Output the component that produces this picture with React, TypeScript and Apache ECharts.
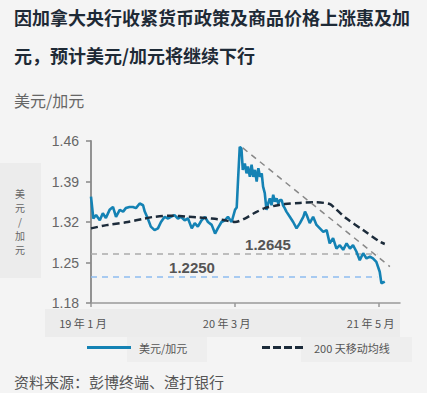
import React, { useEffect, useRef } from "react";
import * as echarts from "echarts";

const titleLines = ["因加拿大央行收紧货币政策及商品价格上涨惠及加", "元，预计美元/加元将继续下行"];
const unitText = "美元/加元";
const sourceText = "资料来源：彭博终端、渣打银行";

const usdcadName = "美元/加元";
const maName = "200 天移动均线";

const usdcadDates = [
  "2019-01-01","2019-01-08","2019-01-16","2019-01-27","2019-02-05","2019-02-14","2019-02-25","2019-03-07","2019-03-16","2019-03-27",
  "2019-04-06","2019-04-14","2019-04-25","2019-05-05","2019-05-14","2019-05-25","2019-06-04","2019-06-09","2019-06-18","2019-06-27",
  "2019-07-08","2019-07-18","2019-07-27","2019-08-07","2019-08-17","2019-08-25","2019-09-05","2019-09-15","2019-09-24","2019-10-05",
  "2019-10-15","2019-10-26","2019-11-04","2019-11-13","2019-11-24","2019-12-04","2019-12-13","2019-12-24","2020-01-03","2020-01-11",
  "2020-01-22","2020-02-01","2020-02-10","2020-02-21","2020-03-02","2020-03-07","2020-03-11","2020-03-16","2020-03-21","2020-03-25",
  "2020-03-31","2020-04-05","2020-04-09","2020-04-15","2020-04-20","2020-04-25","2020-04-30","2020-05-05","2020-05-10","2020-05-15",
  "2020-05-20","2020-05-24","2020-05-29","2020-06-03","2020-06-08","2020-06-13","2020-06-18","2020-06-23","2020-06-28","2020-07-03",
  "2020-07-08","2020-07-13","2020-07-18","2020-07-22","2020-07-27","2020-08-01","2020-08-11","2020-08-21","2020-08-31","2020-09-10",
  "2020-09-20","2020-09-25","2020-09-30","2020-10-09","2020-10-19","2020-10-29","2020-11-08","2020-11-18","2020-11-28","2020-12-07",
  "2020-12-17","2020-12-27","2021-01-06","2021-01-16","2021-01-26","2021-02-05","2021-02-14","2021-02-24","2021-03-06","2021-03-16",
  "2021-03-26","2021-04-05","2021-04-14","2021-04-24","2021-05-04","2021-05-09","2021-05-19",
];
const usdcadValues = [
  1.364,1.326,1.332,1.323,1.335,1.327,1.341,1.346,1.329,1.341,
  1.338,1.344,1.346,1.346,1.344,1.352,1.349,1.338,1.326,1.312,
  1.306,1.309,1.320,1.329,1.326,1.329,1.332,1.326,1.329,1.323,
  1.326,1.309,1.318,1.312,1.323,1.329,1.320,1.315,1.300,1.309,
  1.320,1.323,1.329,1.320,1.341,1.345,1.393,1.450,1.447,1.410,
  1.421,1.404,1.416,1.398,1.419,1.398,1.410,1.390,1.413,1.398,
  1.404,1.381,1.370,1.341,1.352,1.361,1.349,1.367,1.355,1.361,
  1.352,1.358,1.358,1.349,1.344,1.338,1.329,1.320,1.309,1.318,
  1.329,1.338,1.332,1.318,1.329,1.315,1.309,1.303,1.306,1.283,
  1.292,1.274,1.280,1.272,1.283,1.274,1.280,1.269,1.254,1.266,
  1.257,1.260,1.257,1.251,1.234,1.214,1.217,
];

const maDates = [
  "2019-01-01","2019-02-20","2019-04-20","2019-06-08","2019-07-08","2019-08-25","2019-10-15","2019-11-13","2019-12-24","2020-01-22",
  "2020-03-02","2020-03-31","2020-04-30","2020-05-29","2020-06-28","2020-07-27","2020-09-10","2020-10-27","2020-12-07","2020-12-22",
  "2021-01-26","2021-03-16","2021-05-04","2021-05-19",
];
const maValues = [
  1.309,1.315,1.320,1.326,1.329,1.331,1.329,1.328,1.326,1.324,
  1.320,1.326,1.336,1.344,1.348,1.351,1.353,1.354,1.351,1.344,
  1.326,1.306,1.286,1.282,
];

const resistanceLevel = 1.2645;
const supportLevel = 1.225;
const levelStart = "2019-01-01";
const levelEnd = "2021-04-27";
const trendDates = ["2020-03-25", "2021-06-03"];
const trendValues = [1.448, 1.243];

const yTicks = [1.18, 1.25, 1.32, 1.39, 1.46];
const xTickDateStrings = ["2019-01-01", "2020-03-01", "2021-05-01"];
const xTickLabels = ["19 年 1 月", "20 年 3 月", "21 年 5 月"];
const xMinDate = "2019-01-01";
const xMaxDate = "2021-07-03";

const FONT = "'Liberation Sans', 'Noto Sans CJK SC', sans-serif";
const CJK = "'Noto Sans CJK SC', 'Liberation Sans', sans-serif";

const toTs = (s: string) => {
  const [y, m, d] = s.split("-").map(Number);
  return Date.UTC(y, m - 1, d);
};

export default function App() {
  const ref = useRef<HTMLDivElement>(null);
  useEffect(() => {
    if (!ref.current) return;
    const chart = echarts.init(ref.current, null, { renderer: "svg" });
    const pair = (d: string[], v: number[]) => d.map((x, i) => [toTs(x), v[i]]);
    const xTicks = xTickDateStrings.map(toTs);
    const unitChars = unitText.split("");
    const verticalUnit = unitChars.map((ch, i) => ({
      type: "text",
      x: 20,
      y: 221 + (i - (unitChars.length - 1) / 2) * 14,
      style: { text: ch, fill: "#666", font: `10px ${CJK}`, textAlign: "center", textVerticalAlign: "middle" },
    }));
    chart.setOption({
      animation: false,
      backgroundColor: "#f4f4f4",
      textStyle: { fontFamily: FONT },
      grid: { left: 91, right: 27, top: 141, bottom: 90, containLabel: false },
      xAxis: {
        type: "value",
        min: toTs(xMinDate),
        max: toTs(xMaxDate),
        axisLine: { show: true, lineStyle: { color: "#999", width: 1.5 } },
        axisTick: { show: true, length: 4, lineStyle: { color: "#999", width: 1.5 }, customValues: xTicks },
        axisLabel: {
          customValues: xTicks,
          color: "#555",
          fontSize: 11,
          fontFamily: CJK,
          margin: 14,
          padding: [0, 16, 0, 0],
          formatter: (val: number) => {
            let best = 0;
            xTicks.forEach((t, i) => {
              if (Math.abs(t - val) < Math.abs(xTicks[best] - val)) best = i;
            });
            return xTickLabels[best];
          },
        },
        splitLine: { show: false },
      },
      yAxis: {
        type: "value",
        min: 1.18,
        max: 1.46,
        axisLine: { show: true, lineStyle: { color: "#888", width: 1.8 } },
        axisTick: { show: true, length: 5, lineStyle: { color: "#888", width: 1.5 }, customValues: yTicks },
        axisLabel: {
          customValues: yTicks,
          color: "#666",
          fontSize: 14,
          margin: 12,
          formatter: (v: number) => v.toFixed(2),
        },
        splitLine: { show: false },
      },
      legend: [
        {
          left: 82,
          top: 337,
          itemWidth: 44,
          itemHeight: 12,
          textStyle: { color: "#555", fontSize: 11, fontFamily: CJK, padding: [0, 0, 0, 3] },
          data: [{ name: usdcadName, icon: "path://M0,5 L44,5 L44,8 L0,8 Z", itemStyle: { color: "#1482b4" } }],
        },
        {
          left: 257,
          top: 337,
          itemWidth: 41,
          itemHeight: 12,
          textStyle: { color: "#555", fontSize: 11, fontFamily: CJK, padding: [0, 0, 0, 6] },
          data: [{
            name: maName,
            icon: "path://M0,5 L8,5 L8,8 L0,8 Z M11,5 L19,5 L19,8 L11,8 Z M22,5 L30,5 L30,8 L22,8 Z M33,5 L41,5 L41,8 L33,8 Z",
            itemStyle: { color: "#1c2b3a" },
          }],
        },
      ],
      series: [
        {
          name: "resistance",
          type: "line",
          data: [[toTs(levelStart), resistanceLevel], [toTs(levelEnd), resistanceLevel]],
          showSymbol: false,
          silent: true,
          lineStyle: { color: "#aaaaaa", width: 1.5, type: [6, 5] },
          z: 1,
        },
        {
          name: "support",
          type: "line",
          data: [[toTs(levelStart), supportLevel], [toTs(levelEnd), supportLevel]],
          showSymbol: false,
          silent: true,
          lineStyle: { color: "#8dbcf0", width: 1.5, type: [6, 5] },
          z: 1,
        },
        {
          name: usdcadName,
          type: "line",
          data: pair(usdcadDates, usdcadValues),
          showSymbol: false,
          lineStyle: { color: "#1482b4", width: 2.6 },
          itemStyle: { color: "#1482b4" },
          z: 2,
        },
        {
          name: maName,
          type: "line",
          data: pair(maDates, maValues),
          showSymbol: false,
          smooth: 0.3,
          lineStyle: { color: "#1c2b3a", width: 2.5, type: [7, 4] },
          itemStyle: { color: "#1c2b3a" },
          z: 3,
        },
        {
          name: "trend",
          type: "line",
          data: pair(trendDates, trendValues),
          showSymbol: false,
          silent: true,
          lineStyle: { color: "#888888", width: 1.5, type: [6, 5] },
          z: 3,
        },
      ],
      graphic: [
        { type: "rect", z: -1, shape: { x: 0, y: 163, width: 41, height: 115 }, style: { fill: "#ececec" } },
        { type: "rect", z: -1, shape: { x: 45, y: 309, width: 355, height: 28 }, style: { fill: "#ececec" } },
        { type: "rect", z: -1, shape: { x: 127, y: 337, width: 80, height: 25 }, style: { fill: "#eeeeee" } },
        { type: "rect", z: -1, shape: { x: 301, y: 337, width: 111, height: 25 }, style: { fill: "#eeeeee" } },
        { type: "text", x: 14, y: 17, style: { text: titleLines[0], fill: "#1e2a36", font: `bold 18px ${CJK}`, textVerticalAlign: "middle" } },
        { type: "text", x: 14, y: 55, style: { text: titleLines[1], fill: "#1e2a36", font: `bold 18px ${CJK}`, textVerticalAlign: "middle" } },
        { type: "text", x: 14, y: 100, style: { text: unitText, fill: "#666", font: `16px ${CJK}`, textVerticalAlign: "middle" } },
        ...verticalUnit,
        { type: "text", x: 268, y: 244, style: { text: resistanceLevel.toFixed(4), fill: "#555", font: `bold 15px ${FONT}`, textAlign: "center", textVerticalAlign: "middle" } },
        { type: "text", x: 192, y: 267, style: { text: supportLevel.toFixed(4), fill: "#555", font: `bold 15px ${FONT}`, textAlign: "center", textVerticalAlign: "middle" } },
        { type: "text", x: 14, y: 381, style: { text: sourceText, fill: "#555", font: `15px ${CJK}`, textVerticalAlign: "middle" } },
      ],
    });
    return () => chart.dispose();
  }, []);
  return <div ref={ref} style={{ position: "fixed", left: 0, top: 0, width: 427, height: 393 }} />;
}
